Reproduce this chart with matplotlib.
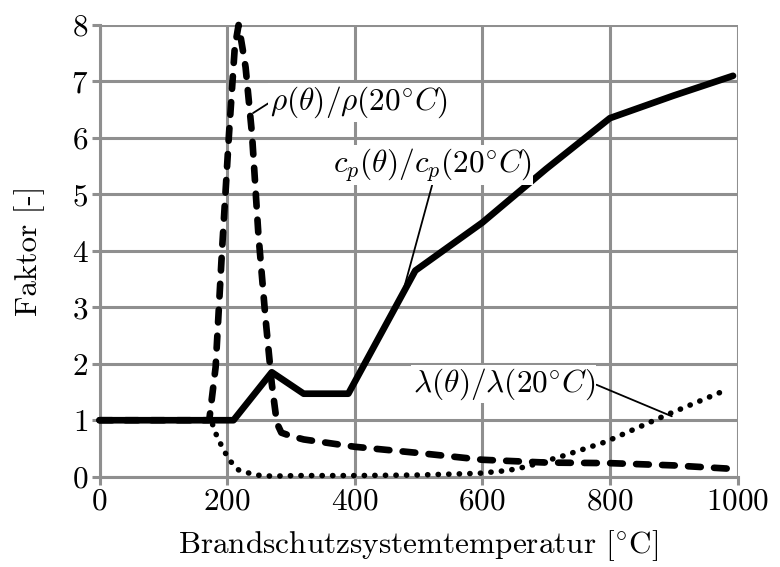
import matplotlib
matplotlib.use("Agg")
import matplotlib.pyplot as plt

plt.rcParams['font.family'] = ['cmr10', 'DejaVu Serif']
plt.rcParams['mathtext.fontset'] = 'cm'
plt.rcParams['axes.unicode_minus'] = False
plt.rcParams['axes.formatter.use_mathtext'] = True

# c_p(theta)/c_p(20°C)
cp_T = [0, 210, 270, 320, 390, 495, 600, 700, 800, 900, 993]
cp_v = [1.0, 1.0, 1.85, 1.47, 1.47, 3.65, 4.5, 5.45, 6.35, 6.75, 7.1]

# rho(theta)/rho(20°C)
rho_T = [0, 172, 182, 192, 203, 212, 218, 224, 229, 239, 249, 260, 270, 278, 285, 300, 320, 400, 500, 600, 700, 800, 900, 990]
rho_v = [1.0, 1.0, 1.94, 4.0, 6.07, 7.6, 8.0, 7.6, 7.25, 6.07, 4.3, 2.83, 1.65, 0.95, 0.78, 0.72, 0.66, 0.53, 0.42, 0.30, 0.25, 0.24, 0.20, 0.14]

# lambda(theta)/lambda(20°C)
lam_T = [0, 175, 182, 192, 203, 218, 244, 270, 311, 400, 500, 595, 640, 670, 727, 794, 888, 985]
lam_v = [1.0, 1.0, 0.77, 0.53, 0.30, 0.12, 0.03, 0.01, 0.02, 0.02, 0.03, 0.06, 0.11, 0.18, 0.37, 0.62, 1.09, 1.55]

x_ticks = [0, 200, 400, 600, 800, 1000]
y_ticks = [0, 1, 2, 3, 4, 5, 6, 7, 8]

fig = plt.figure(figsize=(7.8, 5.67), dpi=100)
ax = fig.add_axes([99.5 / 780, 1 - 476.7 / 567, (737.5 - 99.5) / 780, (476.7 - 25) / 567])

gray = '#8f8f8f'
fs = 22.5
ax.set_xlim(0, 1000)
ax.set_ylim(0, 8)
ax.set_xticks(x_ticks)
ax.set_yticks(y_ticks)
ax.grid(True, color=gray, linewidth=2.2, zorder=0)
ax.set_axisbelow(True)
for s in ['top', 'right']:
    ax.spines[s].set_visible(False)
for s in ['left', 'bottom']:
    ax.spines[s].set_color(gray)
    ax.spines[s].set_linewidth(2.2)
ax.tick_params(axis='both', colors=gray, width=2.2, length=6, labelsize=fs,
               labelcolor='black', pad=2)

ax.plot(cp_T, cp_v, color='black', linewidth=4.8, solid_capstyle='round',
        solid_joinstyle='round', zorder=3, clip_on=False)
ax.plot(rho_T, rho_v, color='black', linewidth=4.8, linestyle=(0, (1.9, 2.0)),
        dash_capstyle='round', zorder=3, clip_on=False)
ax.plot(lam_T, lam_v, color='black', linewidth=4.0, linestyle=(0, (0.05, 1.85)),
        dash_capstyle='round', zorder=3, clip_on=False)

box = dict(boxstyle='square,pad=0.05', fc='white', ec='none')
ax.annotate(r'$\rho(\theta)/\rho(20^{\circ}C)$', xy=(240.6, 6.44), xytext=(267, 6.63),
            fontsize=fs, ha='left', va='center', bbox=box, zorder=4,
            arrowprops=dict(arrowstyle='-', color='black', lw=1.3, shrinkA=0, shrinkB=0,
                            relpos=(0.0, 0.5)))
ax.annotate(r'$c_p(\theta)/c_p(20^{\circ}C)$', xy=(478, 3.37), xytext=(522, 5.52),
            fontsize=fs, ha='center', va='center', bbox=box, zorder=4,
            arrowprops=dict(arrowstyle='-', color='black', lw=1.3, shrinkA=0, shrinkB=0,
                            relpos=(0.5, 0.0)))
ax.annotate(r'$\lambda(\theta)/\lambda(20^{\circ}C)$', xy=(897, 1.07), xytext=(491, 1.64),
            fontsize=fs, ha='left', va='center', bbox=box, zorder=4,
            arrowprops=dict(arrowstyle='-', color='black', lw=1.3, shrinkA=0, shrinkB=0,
                            relpos=(1.0, 0.5)))

ax.set_xlabel(r'Brandschutzsystemtemperatur [$^{\circ}$C]', fontsize=fs, labelpad=9)
ax.set_ylabel('Faktor [-]', fontsize=fs, labelpad=19)

fig.savefig('out.png', dpi=100)
